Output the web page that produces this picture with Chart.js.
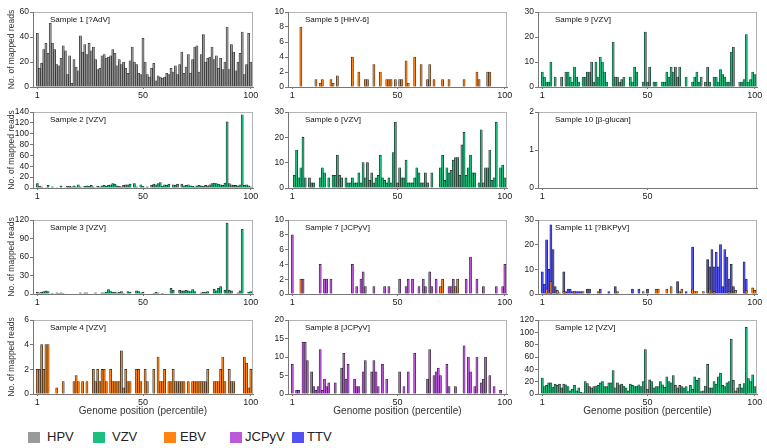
<!DOCTYPE html>
<html>
<head>
<meta charset="utf-8">
<script src="https://cdn.jsdelivr.net/npm/chart.js@4.4.0/dist/chart.umd.min.js"></script>
<style>
body{margin:0;background:#fff;width:767px;height:448px;position:relative;overflow:hidden;font-family:"Liberation Sans",Arial,sans-serif}
canvas{position:absolute}
.sw{position:absolute;width:12px;height:11px;top:432px}
.lb{position:absolute;top:429px;font-size:13px;line-height:16px;color:#222}
</style>
</head>
<body>
<script>
// genome position bins (percentile)
var positions = Array.from({length: 100}, function(_, i){ return i + 1; });
var xTicks = [1, 50, 100];

var sample1 = [43,15,19,30,35,27,51,35,30,18, 17,23,33,29,10,25,3,22,16,13, 41,28,34,26,35,29,32,22,14,15,
  25,26,23,24,25,30,27,17,22,18, 20,15,11,21,32,20,18,11,10,39, 20,10,8,15,19,5,9,8,7,8,
  11,10,15,12,17,10,18,28,11,16, 26,11,22,32,33,12,26,42,20,23, 24,32,22,25,15,23,14,20,48,14,
  34,28,13,20,27,44,10,18,43,20];
var sample2 = [8,3,2,0,1,5,0,2,0,1, 0,4,0,1,3,3,2,4,2,6, 2,1,3,4,3,5,2,1,3,2, 4,5,3,5,6,8,7,4,3,2,
  5,6,6,7,0,8,2,0,6,3, 1,2,0,5,7,6,8,10,3,6, 5,7,0,6,5,7,0,7,4,5, 6,4,3,2,4,5,4,3,5,4,
  6,8,9,8,7,6,5,9,122,8, 6,5,5,4,6,135,5,6,4,2];
var sample3 = [3,2,3,4,5,4,0,1,0,2, 1,2,1,0,0,0,0,0,0,0, 2,0,2,2,0,0,0,2,0,0, 2,2,3,7,4,3,3,2,3,4,
  1,0,4,3,0,0,5,4,2,3, 0,0,0,0,1,3,2,0,1,0, 0,0,9,6,0,0,6,5,5,6, 5,4,7,4,0,0,2,3,3,4,
  0,0,8,5,9,12,0,6,115,6, 5,0,0,2,5,105,0,0,3,4];
var sample4 = [2,2,4,2,4,4,0,0,0,0.5, 0,0,1,0,0,0,0,1,1.5,1, 0,1,0,1,0,0,2,1,2,1, 2,2,1,0,2,1,1,1,1,3.5,
  0.5,2,1,1,0,0,2,2,1,0, 2,1,0,0,2,0,3,1,1,2, 0,1,1,2,1,1,1,1,1,0, 1,0,1,1,1,1,1,1,1,2,
  0,0,1,1,1,2,3,1,0,2, 1,1,0,0,0,0,3,2.5,0.5,2];
var sample5 = [0,0,0,0,8,0,0,0,0,0, 0,1,0,0.5,1,0,0,0,1,0.5, 0,1.5,0,0,0,0,0,0,4,0, 0,2,0,0,1,1,0,0,3,0,
  0,2,0,0,1,1,1,0,1,0, 1,1,0,3.5,0.5,0,0,4,0,0, 3,0,0,1,3,0,1,0,0,0, 1,0,0,1,0,0,0,0,0,0,
  1,0,0,0,0,0,2,1,0,0, 0,2,2,0,0,0,0,0,0,0];
var sample6 = [0,5,15,4,8,20,4,0,4,2, 2,0,0,4,8,6,0,4,0,5, 5,13,5,4,0,4,2,2,4,2, 2,6,2,10,4,10,3,6,2,4,
  5,13,4,3,2,4,2,14,26,2, 8,4,4,11,2,2,2,4,8,6, 2,2,6,2,0,6,0,0,0,8, 13,3,8,6,7,11,12,12,5,17,
  22,5,8,13,6,6,0,2,23,2, 8,8,15,3,4,26,0,8,9,4];
var sample7Jcpyv = [8,0,0,0,0,2,0,0,0,0, 0,0,0,4,0,2,2,0,2,0, 0,0,0,0,0,0,0,0,4,0, 1,0,2,3,1,0,0,0,1,0,
  0,0,0,1,0,1,0,0,0,0, 2,0,0,1,2,0,2,0,0,1, 0,2,1,0,3,1,0,2,0,0, 0,0,0,1,1,2,0,0,0,0,
  0,2,0,5,0,0,2,0,0,1, 0,0,0,0,0,1,0,0,1,4];
var sample7Ebv = [0,0,0,0,2,0,0,0,0,0, 0,0,0,0,0,0,0,0,0,0, 0,0,0,0,0,0,0,0,0,0, 0,0,0,0,0,0,0,0,0,0,
  0,0,0,0,0,0,0,0,0,0, 0,0,0,0,0,0,0,0,0,0, 0,0,0,0,0,0,0,0,0,1, 2,0,0,0,0,0,1,2,0,0,
  0,0,0,0,0,0,0,0,0,0, 0,0,0,0,0,0,0,0,0,0];
var sample8 = [8,0,1,1,0,14,14,9,0,6, 2,1,2,12,1,4,2,3,0,0, 3,0,0,7,11,4,8,0,0,4, 2,2,0,6,9,0,0,6,9,6,
  2,0,8,0,4,0,0,0,0,0, 6,0,2,0,6,0,0,11,0,0, 0,0,0,4,12,0,5,6,7,5, 0,0,8,2,0,0,2,0,0,0,
  13,0,10,6,0,2,10,0,3,4, 10,0,5,0,2,0,0,1,0,0];
var sample9 = [6,4,2,2,10,0,4,0,0,4, 0,6,6,4,2,8,4,2,0,4, 4,6,6,10,2,10,4,12,10,6, 2,0,0,18,4,4,2,3,4,0,
  0,4,2,8,6,0,0,2,22,2, 8,0,2,2,0,0,2,2,6,4, 8,6,8,4,8,0,0,4,0,0, 2,4,6,2,4,0,2,8,2,0,
  4,4,2,7,5,4,2,2,14,16, 0,0,2,2,3,21,2,3,6,5];
var sample10 = [];
var sample11Ttv = [9,4,22,10,28,18,3,1,0,0, 9,1,2,2,1,1,1,1,1,0, 0,2,2,0,0,0,0,2,0,0, 0,1,0,0,3,0,0,0,0,0,
  0,0,2,0,0,2,0,0,0,2, 0,0,0,0,0,0,0,0,0,0, 0,0,0,5,0,0,0,1,0,0, 19,0,0,0,0,0,0,14,11,18,
  11,17,11,20,3,18,15,6,12,3, 0,0,0,0,13,6,0,0,0,0];
var sample11Ebv = [0,0,2,0,5,0,0,1.5,0.5,0, 1,0,0,0,0,1,0,0,0,1, 0,0,0,0,0,0,1,0,0,0, 0,0,0,0,0,1,0,0,0,0,
  0,0,0,0,0,0,0,1,0,0, 0,0,0,2,2,0,0,0,2,0, 3,0,0,0,1,2,0,0,0,0, 2,1,1,0,0,1,0,0,2,0,
  1,0,0,0,0,0,0,1,0,0, 1.5,0,0,0,0,1.5,0,0,2.5,1.5];
var sample12 = [26,12,14,18,18,11,16,14,16,10, 16,15,12,5,8,14,5,10,3,2, 20,17,12,10,12,13,14,18,20,12,
  12,18,18,38,10,18,15,16,13,10, 5,16,14,12,13,15,12,20,72,8, 23,20,10,12,12,20,15,11,28,20,
  18,30,14,10,14,12,10,12,4,14, 8,28,22,26,4,5,13,48,10,10, 20,16,28,34,14,12,18,20,89,22,
  5,10,16,10,17,108,25,20,31,12];

var viruses = ['HPV', 'VZV', 'EBV', 'JCPyV', 'TTV'];
var virusColors = {HPV: '#9a9a9a', VZV: '#1bbf7e', EBV: '#ff8414', JCPyV: '#bb58dc', TTV: '#5252ee'};

var panels = [
  {title: 'Sample 1 [?AdV]', col: 0, row: 0, max: 60, step: 20, sets: [['HPV', sample1]]},
  {title: 'Sample 2 [VZV]', col: 0, row: 1, max: 140, step: 20, sets: [['VZV', sample2]]},
  {title: 'Sample 3 [VZV]', col: 0, row: 2, max: 120, step: 30, sets: [['VZV', sample3]]},
  {title: 'Sample 4 [VZV]', col: 0, row: 3, max: 6, step: 2, sets: [['EBV', sample4]]},
  {title: 'Sample 5 [HHV-6]', col: 1, row: 0, max: 10, step: 2, sets: [['EBV', sample5]]},
  {title: 'Sample 6 [VZV]', col: 1, row: 1, max: 30, step: 10, sets: [['VZV', sample6]]},
  {title: 'Sample 7 [JCPyV]', col: 1, row: 2, max: 10, step: 2, sets: [['EBV', sample7Ebv], ['JCPyV', sample7Jcpyv]]},
  {title: 'Sample 8 [JCPyV]', col: 1, row: 3, max: 20, step: 5, sets: [['JCPyV', sample8]]},
  {title: 'Sample 9 [VZV]', col: 2, row: 0, max: 30, step: 10, sets: [['VZV', sample9]]},
  {title: 'Sample 10 [\u03b2-glucan]', col: 2, row: 1, max: 2, step: 1, sets: [['VZV', sample10]], ticks: [1, 50]},
  {title: 'Sample 11 [?BKPyV]', col: 2, row: 2, max: 30, step: 10, sets: [['EBV', sample11Ebv], ['TTV', sample11Ttv]]},
  {title: 'Sample 12 [VZV]', col: 2, row: 3, max: 120, step: 20, sets: [['VZV', sample12]]}
];

// plot area edges
var colX = [[33, 253], [288, 507], [538, 757]];
var rowY = [[12, 87], [112, 188], [220, 294], [320, 394]];

Chart.defaults.font.family = '"Liberation Sans", Arial, sans-serif';
Chart.defaults.color = '#222';

var framePlugin = {
  id: 'panelFrame',
  beforeDraw: function(chart) {
    var a = chart.chartArea, ctx = chart.ctx;
    ctx.save();
    ctx.strokeStyle = '#b4b4b4';
    ctx.lineWidth = 1;
    ctx.strokeRect(a.left + 0.5, a.top + 0.5, a.right - a.left - 1, a.bottom - a.top);
    ctx.restore();
  },
  afterDraw: function(chart, args, opts) {
    var a = chart.chartArea, ctx = chart.ctx;
    ctx.save();
    ctx.font = '8px "Liberation Sans", Arial, sans-serif';
    ctx.fillStyle = '#111';
    ctx.textBaseline = 'middle';
    ctx.fillText(opts.text, a.left + 17, a.top + 8);
    ctx.restore();
  }
};

panels.forEach(function(p) {
  var l = colX[p.col][0], r = colX[p.col][1], t = rowY[p.row][0], b = rowY[p.row][1];
  var firstCol = p.col === 0, lastRow = p.row === 3;
  var yw = firstCol ? l : 30;
  var padL = firstCol ? 0 : 2, padT = 8, padR = 12, padB = 2;
  var xh = lastRow ? 23 : 14;
  var cv = document.createElement('canvas');
  cv.width = (r - l) + yw + padL + padR;
  cv.height = (b - t) + xh + padT + padB;
  cv.style.left = (l - yw - padL) + 'px';
  cv.style.top = (t - padT) + 'px';
  document.body.appendChild(cv);
  var tickVals = p.ticks || xTicks;

  new Chart(cv, {
    type: 'bar',
    data: {
      datasets: p.sets.map(function(s) {
        return {
          label: s[0],
          data: s[1].map(function(v, i){ return {x: positions[i], y: v}; }),
          backgroundColor: virusColors[s[0]],
          borderColor: '#262626',
          borderWidth: 0.7,
          borderSkipped: 'start',
          barPercentage: 1,
          categoryPercentage: 1,
          grouped: false
        };
      })
    },
    options: {
      responsive: false,
      animation: false,
      layout: {padding: {left: padL, right: padR, top: padT, bottom: padB}},
      plugins: {legend: {display: false}, tooltip: {enabled: false}, panelFrame: {text: p.title}},
      scales: {
        x: {
          type: 'linear', min: -1, max: 101, offset: false,
          afterBuildTicks: function(ax){ ax.ticks = tickVals.map(function(v){ return {value: v}; }); },
          ticks: {font: {size: 9}, color: '#222', padding: 1, maxRotation: 0, autoSkip: false},
          grid: {offset: false, drawOnChartArea: false, tickLength: 2, color: '#777'},
          border: {color: '#777'},
          title: {display: lastRow, text: 'Genome position (percentile)', font: {size: 10}, color: '#333', padding: {top: 0, bottom: 0}},
          afterFit: function(ax){ ax.height = xh; }
        },
        y: {
          min: 0, max: p.max,
          ticks: {stepSize: p.step, font: {size: 8.5}, color: '#222', padding: 1, autoSkip: false},
          grid: {drawOnChartArea: false, tickLength: 3, color: '#777'},
          border: {color: '#777'},
          title: {display: firstCol, text: 'No. of mapped reads', font: {size: 8.5}, color: '#333', padding: {top: 7, bottom: 0}},
          afterFit: function(ax){ ax.width = yw; }
        }
      }
    },
    plugins: [framePlugin]
  });
});

// shared legend
var legendX = [[28, 47], [93, 112], [164, 180], [230, 245], [292, 307]];
viruses.forEach(function(v, i) {
  var sw = document.createElement('div');
  sw.className = 'sw';
  sw.style.left = legendX[i][0] + 'px';
  sw.style.background = virusColors[v];
  document.body.appendChild(sw);
  var lb = document.createElement('div');
  lb.className = 'lb';
  lb.style.left = legendX[i][1] + 'px';
  lb.textContent = v;
  document.body.appendChild(lb);
});
</script>
</body>
</html>
